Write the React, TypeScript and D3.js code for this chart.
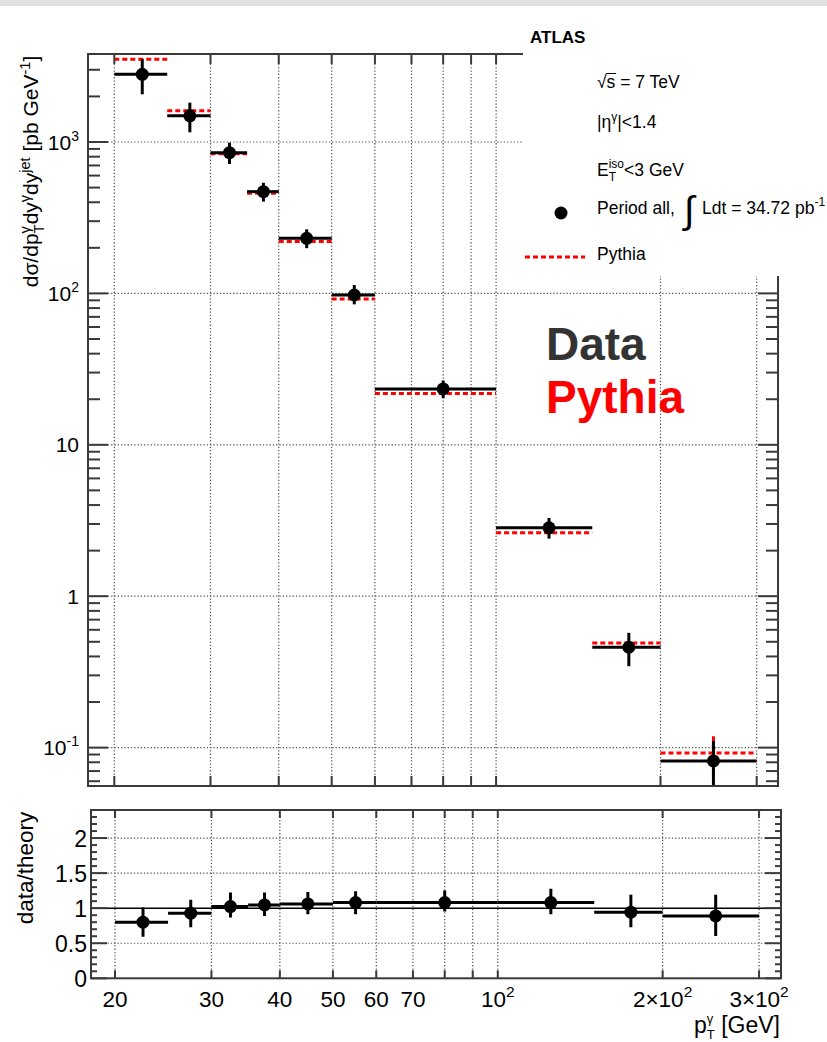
import React from 'react';
import * as d3 from 'd3';

// ---------- data ----------
const binLow = [20, 25, 30, 35, 40, 50, 60, 100, 150, 200];
const binHigh = [25, 30, 35, 40, 50, 60, 100, 150, 200, 300];
const binCenter = [22.5, 27.5, 32.5, 37.5, 45, 55, 80, 125, 175, 250];
const dataXsec = [2800, 1490, 850, 470, 231, 97.6, 23.4, 2.83, 0.46, 0.0817];
const dataXsecHigh = [3520, 1820, 990, 538, 265, 113.6, 26.6, 3.29, 0.573, 0.1107];
const dataXsecLow = [2066, 1159, 716, 404, 199, 84.7, 20.3, 2.4, 0.345, 0.05];
const pythiaXsec = [3515, 1610, 837, 458, 220, 91.8, 21.8, 2.62, 0.49, 0.092];
const pythiaErr = [20, 10, 5, 3, 1.5, 0.6, 0.15, 0.02, 0.01, 0.027];
const ratio = [0.8, 0.929, 1.023, 1.047, 1.061, 1.08, 1.08, 1.08, 0.943, 0.89];
const ratioHigh = [1.009, 1.119, 1.223, 1.223, 1.229, 1.243, 1.251, 1.276, 1.19, 1.19];
const ratioLow = [0.594, 0.729, 0.866, 0.89, 0.914, 0.914, 0.951, 0.914, 0.729, 0.604];

const xGridValues = [20, 30, 40, 50, 60, 70, 80, 90, 100, 200, 300];
const xTickLabelValues = [20, 30, 40, 50, 60, 70, 100, 200, 300];
const xTickLabelBase = ['20', '30', '40', '50', '60', '70', '10', '2×10', '3×10'];
const xTickLabelExp = ['', '', '', '', '', '', '2', '2', '2'];
const yTopLabelValues = [0.1, 1, 10, 100, 1000];
const yTopLabelBase = ['10', '1', '10', '10', '10'];
const yTopLabelExp = ['-1', '', '', '2', '3'];
const yRatioLabelValues = [0, 0.5, 1, 1.5, 2];
const yRatioLabels = ['0', '0.5', '1', '1.5', '2'];
const yRatioGrid = [0.5, 1.5, 2];

const FONT = "'Liberation Sans', Arial, Helvetica, sans-serif";
const FRAME = '#3a3a3a';
const GRID = '#555';

export default function App() {
  const W = 827, H = 1042;
  const top = { l: 88, r: 778, t: 54, b: 786 };
  const bot = { l: 91, r: 781, t: 810, b: 978.3 };
  const xTop = d3.scaleLog().domain([17.9, 328.2]).range([top.l, top.r]);
  const xBot = d3.scaleLog().domain([18.08, 329]).range([bot.l, bot.r]);
  const yTop = d3.scaleLog().domain([0.05577, 3813]).range([top.b, top.t]);
  const yBot = d3.scaleLinear().domain([0, 2.4]).range([bot.b, bot.t]);

  const yTopTicks = yTop.ticks();
  const isMajor = (v: number) => Math.abs(Math.log10(v) - Math.round(Math.log10(v))) < 1e-6;
  const ratioMinor = d3.range(0, 24).map((i) => i / 10);

  const legend = { x: 523, y: 8, w: 320, h: 268 };

  return (
    <svg width={W} height={H} style={{ position: 'absolute', left: 0, top: 0, background: '#fff' }} fontFamily={FONT}>
      <defs>
        <clipPath id="clipTop"><rect x={top.l} y={top.t} width={top.r - top.l} height={top.b - top.t} /></clipPath>
        <clipPath id="clipBot"><rect x={bot.l} y={bot.t} width={bot.r - bot.l} height={bot.b - bot.t} /></clipPath>
      </defs>
      <rect x={0} y={0} width={W} height={H} fill="#fff" />
      <rect x={0} y={0} width={W} height={6} fill="#e1e1e1" />

      {/* ===== top panel grid ===== */}
      <g stroke={GRID} strokeWidth={1.2} strokeDasharray="1.3 2">
        {xGridValues.map((v) => (
          <line key={'gx' + v} x1={xTop(v)} x2={xTop(v)} y1={top.t} y2={top.b} />
        ))}
        {yTopLabelValues.map((v) => (
          <line key={'gy' + v} x1={top.l} x2={top.r} y1={yTop(v)} y2={yTop(v)} />
        ))}
      </g>

      {/* pythia */}
      <g clipPath="url(#clipTop)" stroke="#ff0000" strokeWidth={3} strokeDasharray="5 3" fill="none">
        {pythiaXsec.map((v, i) => (
          <g key={'p' + i}>
            <line x1={xTop(binLow[i])} x2={xTop(binHigh[i])} y1={yTop(v)} y2={yTop(v)} />
            <line x1={xTop(binCenter[i])} x2={xTop(binCenter[i])} y1={yTop(v + pythiaErr[i])} y2={yTop(Math.max(v - pythiaErr[i], 1e-3))} />
          </g>
        ))}
      </g>

      {/* data */}
      <g clipPath="url(#clipTop)">
        {dataXsec.map((v, i) => (
          <g key={'d' + i} stroke="#000" strokeWidth={3}>
            <line x1={xTop(binLow[i])} x2={xTop(binHigh[i])} y1={yTop(v)} y2={yTop(v)} />
            <line x1={xTop(binCenter[i])} x2={xTop(binCenter[i])} y1={yTop(dataXsecHigh[i])} y2={yTop(dataXsecLow[i])} />
            <circle cx={xTop(binCenter[i])} cy={yTop(v)} r={6.5} fill="#000" stroke="none" />
          </g>
        ))}
      </g>

      {/* top frame & ticks */}
      <g stroke={FRAME} strokeWidth={2}>
        <rect x={top.l} y={top.t} width={top.r - top.l} height={top.b - top.t} fill="none" />
        {yTopTicks.map((v, i) => {
          const len = isMajor(v) ? 20 : 12;
          return (
            <g key={'yt' + i}>
              <line x1={top.l} x2={top.l + len} y1={yTop(v)} y2={yTop(v)} />
              <line x1={top.r} x2={top.r - len} y1={yTop(v)} y2={yTop(v)} />
            </g>
          );
        })}
        {xGridValues.map((v) => (
          <g key={'xt' + v}>
            <line x1={xTop(v)} x2={xTop(v)} y1={top.b} y2={top.b - 10} />
            <line x1={xTop(v)} x2={xTop(v)} y1={top.t} y2={top.t + 10} />
          </g>
        ))}
      </g>

      {/* top y tick labels */}
      <g fontSize={21} fill="#000" textAnchor="end">
        {yTopLabelValues.map((v, i) => (
          <text key={'yl' + v} x={79} y={yTop(v) + 7.5}>
            {yTopLabelBase[i]}
            {yTopLabelExp[i] && <tspan fontSize={14} dy={-9}>{yTopLabelExp[i]}</tspan>}
          </text>
        ))}
      </g>

      {/* top y title */}
      <text transform="translate(37.5,171.5) rotate(-90)" textAnchor="middle" fontSize={21} fill="#000">
        dσ/dp
        <tspan fontSize={14.5} dy={-8}>γ</tspan>
        <tspan fontSize={14.5} dx={-7} dy={14}>T</tspan>
        <tspan dy={-6}>dy</tspan>
        <tspan fontSize={14.5} dy={-8}>γ</tspan>
        <tspan dy={8}>dy</tspan>
        <tspan fontSize={14.5} dy={-8}>jet</tspan>
        <tspan dy={8}> [pb GeV</tspan>
        <tspan fontSize={14.5} dy={-8}>-1</tspan>
        <tspan dy={8}>]</tspan>
      </text>

      {/* legend box */}
      <rect x={legend.x} y={legend.y} width={legend.w} height={legend.h} fill="#fff" />
      <text x={530} y={43} fontSize={17} fontWeight="bold" fill="#000">ATLAS</text>
      <g fontSize={17.5} fill="#000">
        <text x={597} y={88}>√s = 7 TeV</text>
        <line x1={606} x2={616} y1={73.5} y2={73.5} stroke="#000" strokeWidth={1} />
        <text x={597} y={128}>
          |η<tspan fontSize={12} dy={-7}>γ</tspan>
          <tspan dy={7}>|&lt;1.4</tspan>
        </text>
        <text x={597} y={175.5}>
          E<tspan fontSize={12} dy={-8}>iso</tspan>
          <tspan fontSize={12} dx={-15.3} dy={13}>T</tspan>
          <tspan dx={8} dy={-5}>&lt;3 GeV</tspan>
        </text>
        <text x={597} y={214}>Period all,</text>
        <text x={684} y={223} fontSize={38}>∫</text>
        <text x={702} y={214}>
          Ldt = 34.72 pb<tspan fontSize={12} dy={-8}>-1</tspan>
        </text>
        <text x={597} y={260}>Pythia</text>
      </g>
      <circle cx={561} cy={213} r={6.5} fill="#000" />
      <line x1={525} x2={585} y1={257} y2={257} stroke="#ff0000" strokeWidth={3} strokeDasharray="5 3" />

      {/* big labels */}
      <text x={546} y={360} fontSize={46} fontWeight="bold" fill="#333">Data</text>
      <text x={546} y={413} fontSize={46} fontWeight="bold" fill="#ff0000">Pythia</text>

      {/* ===== ratio panel ===== */}
      <g stroke={GRID} strokeWidth={1.2} strokeDasharray="1.3 2">
        {xGridValues.map((v) => (
          <line key={'bgx' + v} x1={xBot(v)} x2={xBot(v)} y1={bot.t} y2={bot.b} />
        ))}
        {yRatioGrid.map((v) => (
          <line key={'bgy' + v} x1={bot.l} x2={bot.r} y1={yBot(v)} y2={yBot(v)} />
        ))}
      </g>
      <line x1={bot.l} x2={bot.r} y1={yBot(1)} y2={yBot(1)} stroke="#000" strokeWidth={1.5} />
      <g clipPath="url(#clipBot)">
        {ratio.map((v, i) => (
          <g key={'r' + i} stroke="#000" strokeWidth={3}>
            <line x1={xBot(binLow[i])} x2={xBot(binHigh[i])} y1={yBot(v)} y2={yBot(v)} />
            <line x1={xBot(binCenter[i])} x2={xBot(binCenter[i])} y1={yBot(ratioHigh[i])} y2={yBot(ratioLow[i])} />
            <circle cx={xBot(binCenter[i])} cy={yBot(v)} r={6.5} fill="#000" stroke="none" />
          </g>
        ))}
      </g>
      <g stroke={FRAME} strokeWidth={2}>
        <rect x={bot.l} y={bot.t} width={bot.r - bot.l} height={bot.b - bot.t} fill="none" />
        {ratioMinor.map((v, i) => {
          const len = i % 5 === 0 ? 16 : 6;
          return (
            <g key={'rt' + i}>
              <line x1={bot.l} x2={bot.l + len} y1={yBot(v)} y2={yBot(v)} />
              <line x1={bot.r} x2={bot.r - len} y1={yBot(v)} y2={yBot(v)} />
            </g>
          );
        })}
        {xGridValues.map((v) => (
          <g key={'bxt' + v}>
            <line x1={xBot(v)} x2={xBot(v)} y1={bot.b} y2={bot.b - 8} />
            <line x1={xBot(v)} x2={xBot(v)} y1={bot.t} y2={bot.t + 8} />
          </g>
        ))}
      </g>
      <g fontSize={23} fill="#000" textAnchor="end">
        {yRatioLabelValues.map((v, i) => (
          <text key={'ryl' + v} x={87} y={yBot(v) + 8.5}>{yRatioLabels[i]}</text>
        ))}
      </g>
      <text transform="translate(33,868) rotate(-90)" textAnchor="middle" fontSize={22.5} fill="#000">data/theory</text>
      <g fontSize={22.5} fill="#000" textAnchor="middle">
        {xTickLabelValues.map((v, i) => (
          <text key={'xl' + v} x={xBot(v)} y={1006.5}>
            {xTickLabelBase[i]}
            {xTickLabelExp[i] && <tspan fontSize={15.5} dy={-10}>{xTickLabelExp[i]}</tspan>}
          </text>
        ))}
      </g>
      <text x={780} y={1033} textAnchor="end" fontSize={23} fill="#000">
        p<tspan fontSize={13} dy={-10}>γ</tspan>
        <tspan fontSize={13} dx={-6.5} dy={16}>T</tspan>
        <tspan dy={-6}> [GeV]</tspan>
      </text>
    </svg>
  );
}
